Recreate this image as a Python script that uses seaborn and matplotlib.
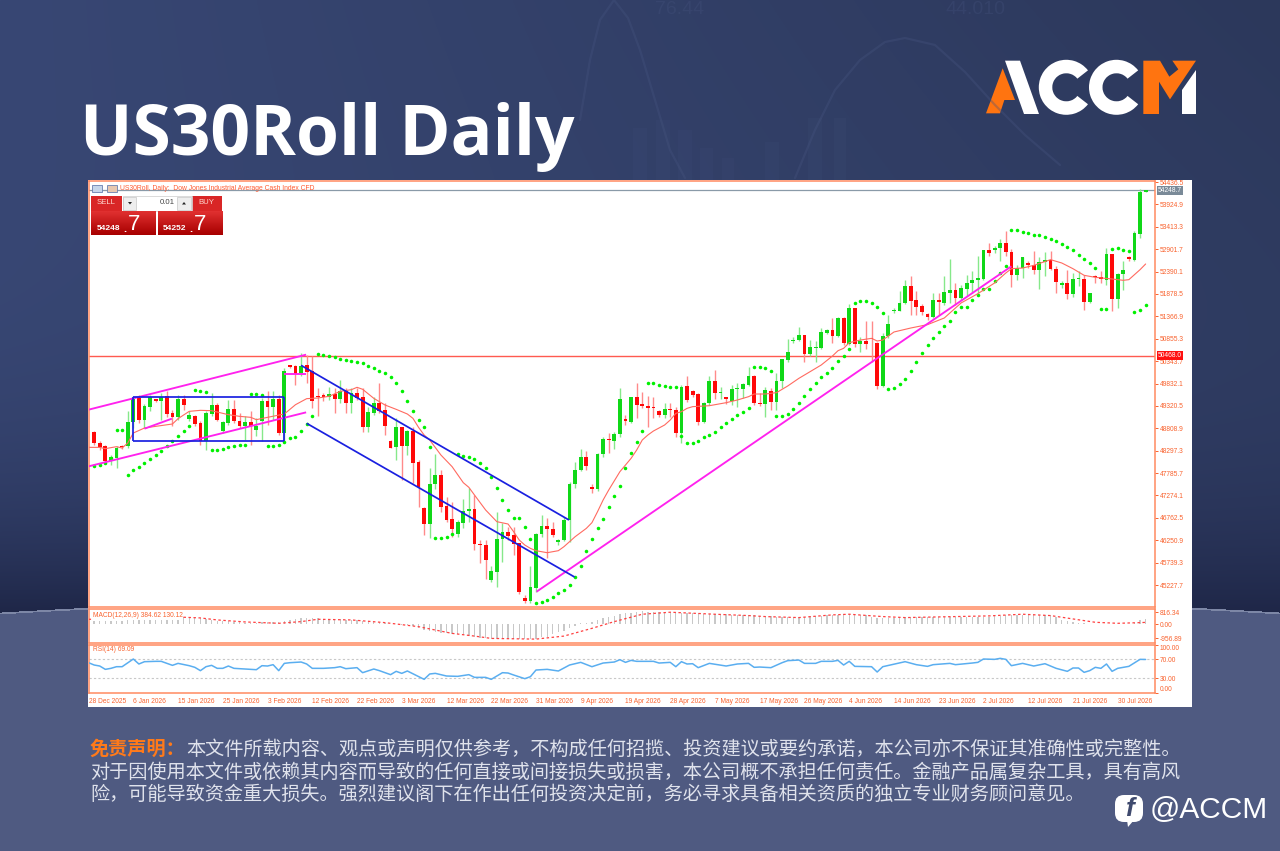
import numpy as np
import matplotlib
matplotlib.use('Agg')
import matplotlib.pyplot as plt
import seaborn as sns
from matplotlib.patches import Rectangle, Polygon, Wedge, FancyBboxPatch
from matplotlib.transforms import blended_transform_factory

# ---- data (bar index is position in the MT4 window) ----
opens = [48724,48465,48396,48069,48130,48404,48396,48945,49501,49006,
         49287,49470,49425,49539,49150,49067,49486,49029,49097,48930,
         48511,49135,49348,48739,48930,49257,48983,48853,48952,48777,
         48968,49425,49303,49470,48701,50247,50224,50072,50247,50110,
         49539,49562,49516,49592,49470,49653,49387,49615,49531,48830,
         49165,49379,49226,48526,48373,48830,48404,48754,48031,46995,
         46614,47528,47741,47033,46736,46393,46652,46918,46964,46157,
         46149,45342,45532,46279,46446,46362,46180,44930,44862,45167,
         46385,46576,46507,46218,46256,46713,47528,47855,48160,47475,
         47414,48221,48564,48526,48670,49028,48960,49516,49356,49318,
         49303,49196,49120,49242,49226,48708,49775,49661,49584,48960,
         49379,49889,49607,49516,49440,49699,49714,49805,50011,49394,
         49363,49668,49417,49897,50369,50803,50826,50940,50506,50643,
         50651,50994,51055,50917,51336,50735,51550,50727,50811,50864,
         50750,49775,50917,51489,51496,51664,52060,51748,51596,51420,
         51344,51748,51672,51900,51976,51786,52000,52121,52205,52220,
         52883,52875,52928,53043,52837,52304,52471,52586,52548,52433,
         52609,52662,52449,52075,52129,51877,52212,52228,51687,52281,
         52266,52205,52791,51771,52334,52715,52662,53248,54216]
closes = [48465,48374,48069,48145,48358,48381,48952,49478,49006,49310,
          49516,49425,49516,49135,49059,49486,49348,49105,48907,48511,
          49150,49348,49006,48945,49257,48968,48853,48952,48853,48869,
          49425,49303,49470,48701,50110,50217,50057,50240,50095,49440,
          49516,49531,49600,49470,49653,49394,49615,49501,48846,49181,
          49379,49211,48861,48366,48830,48404,48754,48023,47459,46614,
          47535,47741,47018,46713,46507,46660,46926,46964,46157,46141,
          45799,45540,46286,46446,46347,46164,45075,44870,45174,46393,
          46576,46507,46378,46256,46713,47535,47855,48160,47954,47429,
          48221,48564,48541,48670,49470,48967,49516,49341,49318,49280,
          49264,49104,49242,49226,48708,49760,49455,49569,48960,49386,
          49889,49607,49638,49470,49706,49729,49821,50011,49394,49363,
          49676,49417,49897,50384,50559,50826,50940,50506,50666,50666,
          51001,51055,50917,51336,50750,51550,50727,50811,50735,50841,
          49782,50917,51184,51504,51672,52060,51725,51580,51458,51344,
          51748,51687,51915,51976,51786,52014,52129,52205,52243,52883,
          52814,52928,53043,52829,52304,52471,52715,52548,52433,52609,
          52662,52449,52152,52136,51877,52220,52228,51687,51900,52258,
          52220,52791,51771,52334,52426,52669,53271,54208,54231]
highs = [48754,48511,48434,48206,48412,48434,49211,49539,49577,49364,
         49577,49480,49615,49653,49234,49577,49577,49196,49120,48968,
         49196,49615,49387,48968,49463,49463,49158,49082,49196,49044,
         49501,49653,49653,49577,50186,50262,50262,50529,50491,50453,
         49729,49615,49745,49729,49904,49729,49729,49729,49722,49303,
         49531,49836,49379,48541,49036,48846,48769,48830,48084,47018,
         47893,48221,47855,47246,47116,46713,47185,47436,47284,46256,
         46256,45662,46903,46652,46560,46560,46195,44999,45662,46408,
         46827,46751,46675,46279,46789,47589,48046,48328,48290,47535,
         48236,48602,48693,48731,49722,49112,49531,49851,49645,49546,
         49531,49226,49379,49394,49303,49798,50003,49684,49607,49417,
         50011,50140,49760,49531,49798,49836,49851,50201,50026,49607,
         49760,49722,50080,50392,50841,50902,51131,50950,50826,50803,
         51093,51070,51321,51359,51359,51649,51557,50902,51268,51268,
         50788,50978,51397,51557,51953,52205,52281,51938,51649,51443,
         51900,51900,52281,52677,52129,52091,52304,52395,52738,52890,
         53043,52966,53134,53309,52913,52532,52720,52624,52852,52723,
         52837,52852,52510,52167,52433,52357,52395,52319,51905,52319,
         52395,52928,52800,52357,52624,52738,53309,54284,54240]
lows = [48434,48320,48016,47977,47901,48343,48358,48815,48930,48815,
        49196,49420,49006,49059,48853,49006,49234,48968,48853,48434,
        48320,49082,48968,48701,48891,48930,48815,48549,48434,48625,
        48511,48891,49006,48663,48472,50186,49806,49996,49844,49272,
        49082,49425,49463,49158,49387,49158,49158,49463,48731,48731,
        49112,49165,48655,48350,48084,47627,48198,47566,47002,46370,
        46294,47414,46903,46675,46332,46332,46522,46675,46027,45723,
        45357,45304,45174,45761,46256,45913,45022,44809,44824,45075,
        46332,45837,46332,46141,46240,46218,47436,47840,47855,47322,
        47383,48145,48236,48328,48617,48884,48922,49036,49264,48846,
        49036,49074,49036,49074,48617,48465,49417,49531,48884,48922,
        49341,49470,49470,49363,49341,49303,49493,49775,49341,49318,
        49074,49226,49226,49722,50331,50765,50811,50331,50460,50331,
        50613,50963,50750,50887,50712,50712,50674,50559,50613,50331,
        49699,49760,50864,51443,51481,51649,51390,51405,51390,51291,
        51329,51405,51634,51672,51634,51748,51824,51900,51900,52205,
        52738,52814,52624,52738,52045,52205,52243,52471,52334,52000,
        52281,52433,51900,52014,51771,51801,52052,51519,51672,52129,
        52129,52091,51481,51557,51976,52639,52639,53157,54210]
psar = [47939,47962,48016,48130,48777,48762,47750,47850,47916,48016,
        48107,48191,48282,48412,48526,48640,48739,48853,49691,49668,
        49630,48320,48320,48343,48373,48396,48419,48434,49600,49592,
        49562,48396,48396,48434,48488,48587,48602,48739,48914,49089,
        50514,50491,50468,50438,50400,50369,50354,50323,50308,50232,
        50179,50125,50064,49973,49851,49668,49432,49211,48990,48838,
        48389,46294,46294,46332,46393,48221,48183,48160,48107,48023,
        47893,47695,47452,47177,46941,46751,46751,46553,46279,44816,
        44831,44885,44946,45052,45113,45228,45410,45669,46004,46279,
        46522,46728,47002,47269,47497,47893,48236,48488,48754,49851,
        49836,49798,49775,49760,49744,48640,48480,48480,48526,48602,
        48655,48731,48846,48937,49013,49112,49188,49280,50201,50201,
        50179,50118,49089,49089,49135,49242,49379,49546,49706,49836,
        49973,50080,50194,50354,50468,50613,51664,51725,51725,51679,
        51588,51451,49706,49729,49821,49943,50125,50331,50537,50712,
        50872,51001,51138,51268,51458,51580,51588,51733,51862,52000,
        52000,52182,52357,52525,53332,53332,53302,53271,53233,53218,
        53180,53134,53096,53020,52951,52875,52776,52677,52578,52471,
        51527,51542,52913,52921,52890,52867,51474,51512,51626]

ma_idx = [-1,1,2,4,5,6,7,9,11,14,15,17,19,21,24,26,28,29,31,34,36,38,40,42,44,46,47,48,50,52,54,56,57,58,
          59,60,62,64,66,67,68,70,72,74,75,76,77,78,79,81,83,84,86,88,89,90,91,92,94,96,97,98,99,100,102,
          103,104,105,106,107,110,113,115,117,118,120,122,124,126,128,130,132,133,134,135,137,139,140,141,
          142,143,146,149,152,155,158,161,163,164,166,168,171,173,175,177,179,182,184,185,186,187,188]
ma_vals = [48373,48373,48343,48389,48358,48472,48701,48815,48853,48907,49029,49196,49219,49211,49120,49082,
           49059,49006,49059,49135,49348,49486,49501,49539,49653,49691,49745,49700,49493,49341,49242,49135,
           49036,48830,48655,48541,48198,47932,47566,47459,47284,46941,46675,46622,46446,46256,46141,46065,
           46012,45966,46012,46104,46332,46522,46652,46903,47170,47398,47817,48122,48312,48541,48655,48747,
           48884,48998,49150,49188,49264,49303,49325,49394,49455,49531,49592,49592,49623,49775,49950,50102,
           50255,50460,50582,50636,50765,50826,50864,50803,50826,50917,51009,51100,51177,51329,51672,51885,
           52129,52357,52456,52471,52532,52662,52586,52456,52304,52258,52220,52190,52205,52319,52433,52563]

macd_hist = [230,230,200,200,230,250,295,340,340,320,295,295,295,320,340,400,477,477,450,
             400,340,295,250,230,200,180,150,120,110,110,150,150,180,150,230,295,340,400,430,400,
             400,360,360,340,340,320,320,295,250,200,180,130,90,40,0,-30,-60,-130,-250,-400,
             -480,-520,-560,-600,-640,-680,-720,-760,-860,-900,-950,-980,-1020,-1020,-1020,-1000,-1000,-980,-960,-960,
             -885,-840,-680,-500,-420,-272,-113,68,113,160,295,408,522,590,700,750,795,863,908,863,
             840,830,820,810,800,790,770,760,750,720,700,690,680,670,660,650,640,620,
             600,580,560,530,510,490,480,480,500,520,540,560,570,600,640,660,680,680,670,660,
             650,480,430,410,430,450,460,470,480,490,490,490,490,500,500,510,510,500,490,500,
             510,520,520,530,560,620,640,650,660,660,650,650,640,620,480,300,250,180,110,
             70,50,30,20,20,20,20,30,40,80,260,385]
signal_idx = [-1,12,16,19,22,27,33,37,40,46,52,58,64,68,71,79,84,89,93,98,103,111,117,120,126,132,135,141,
              145,160,166,171,175,179,183,187,188]
signal_vals = [340,340,477,431,295,160,68,182,340,295,113,-160,-613,-795,-953,-1000,-795,-272,182,681,817,681,
               590,522,454,636,681,522,454,568,681,590,363,136,68,113,130]

rsi_idx = [-1,0,1,2,3,4,5,7,8,9,11,12,14,15,17,18,19,20,21,22,23,24,25,27,29,30,31,32,33,34,35,37,38,39,41,43,
           44,45,47,48,50,51,53,54,55,56,59,60,61,63,65,67,68,70,71,73,74,75,77,78,79,81,83,85,87,89,91,93,94,
           95,96,97,100,101,103,104,105,106,107,108,110,113,115,117,118,119,121,123,124,126,127,129,130,132,133,
           134,135,136,139,140,141,145,147,149,150,153,154,157,158,159,161,162,163,164,166,168,170,172,174,175,
           176,177,178,179,180,181,182,183,185,187,188]
rsi_vals = [62.4,57.6,55.5,48.6,50.7,54.1,54.1,70.0,59.7,64.5,65.2,65.2,56.9,61.0,56.2,52.8,45.9,54.1,56.9,50.7,
            50.7,55.5,50.7,49.3,47.9,56.2,55.5,58.3,45.9,61.0,62.4,63.8,59.7,50.7,50.7,52.1,54.1,50.0,52.1,41.7,
            49.3,45.9,37.6,44.5,40.3,45.2,27.9,39.0,40.3,34.8,34.1,37.6,32.0,32.0,27.9,41.7,41.0,36.9,29.3,33.4,
            47.2,48.6,45.2,57.6,63.1,54.1,61.7,63.8,68.6,63.1,67.2,65.2,65.2,61.7,63.1,54.1,64.5,59.7,60.3,52.1,
            61.0,55.5,59.7,61.0,52.8,53.4,52.1,62.4,66.6,67.9,61.0,61.0,65.2,65.2,67.2,57.6,65.2,54.8,54.1,43.1,
            54.1,64.5,58.3,54.8,58.3,61.0,58.3,61.7,63.1,70.0,69.3,71.4,69.3,56.2,61.0,55.5,60.3,50.7,44.5,51.4,
            51.4,42.4,45.9,52.8,50.7,59.7,44.5,50.7,54.8,69.3,69.09]

price_ticks = [54436.5,53924.9,53413.3,52901.7,52390.1,51878.5,51366.9,50855.3,50343.7,49832.1,
               49320.5,48808.9,48297.3,47785.7,47274.1,46762.5,46250.9,45739.3,45227.7]
date_labels = ['28 Dec 2025','6 Jan 2026','15 Jan 2026','25 Jan 2026','3 Feb 2026','12 Feb 2026','22 Feb 2026',
               '3 Mar 2026','12 Mar 2026','22 Mar 2026','31 Mar 2026','9 Apr 2026','19 Apr 2026','28 Apr 2026',
               '7 May 2026','17 May 2026','26 May 2026','4 Jun 2026','14 Jun 2026','23 Jun 2026','2 Jul 2026',
               '12 Jul 2026','21 Jul 2026','30 Jul 2026']
bid_price = 54248.7
level_price = 50468.0

# trend lines drawn on the chart: (bar, price, bar, price)
magenta_lines = [(-1,49234,37.9,50491),(-1,47939,37.9,49173),(9,48800,13.9,49029),(34,50042,37.9,50042),
                 (79.1,45075,164,52510)]
blue_lines = [(37,50247,84.9,46713),(38,48922,85.9,45410),(7,49524,33.9,49524),(7,48511,33.9,48511),
              (7,49524,7,48511),(33.9,49524,33.9,48511)]

WIDTH, HEIGHT = 1280, 851
CORAL = '#f9622e'
UP, DOWN = '#10d818', '#ff0808'

sns.set_theme(style='white')
plt.rcParams['font.family'] = ['Liberation Sans', 'Noto Sans CJK SC', 'DejaVu Sans']

fig = plt.figure(figsize=(WIDTH / 100, HEIGHT / 100), dpi=100)


def px_axes(x0, y0, x1, y1, zorder=1):
    # axes placed by picture pixels
    return fig.add_axes([x0 / WIDTH, 1 - y1 / HEIGHT, (x1 - x0) / WIDTH, (y1 - y0) / HEIGHT], zorder=zorder)


# ---- page background ----
bg = px_axes(0, 0, WIDTH, HEIGHT, zorder=0)
yy, xx = np.mgrid[0:HEIGHT, 0:WIDTH]
top_c = np.array([0x38, 0x47, 0x74]) / 255
low_c = np.array([0x1f, 0x27, 0x48]) / 255
right_c = np.array([0x2c, 0x38, 0x5b]) / 255
t = (yy / 610)[..., None]
h = (xx / WIDTH)[..., None] * (1 - 0.5 * t)
page = (top_c * (1 - h) + right_c * h) * (1 - t ** 5) + low_c * t ** 5
arc = 594 + 19 * ((xx - 640) / 640) ** 2
under = yy > arc
page[under] = np.array([0x4f, 0x5a, 0x81]) / 255
rim = np.abs(yy - arc) < 0.9
page[rim] = np.array([0x7d, 0x87, 0xa6]) / 255
bg.imshow(page, extent=(0, WIDTH, HEIGHT, 0), aspect='auto', interpolation='bilinear')
bg.set_xlim(0, WIDTH)
bg.set_ylim(HEIGHT, 0)
bg.axis('off')

# faint decoration behind the title
ghost = '#46547f'
sx = np.array([580, 590, 600, 614, 628, 640, 655, 670, 685])
sy = np.array([120, 60, 20, 0, 18, 50, 100, 150, 178])
bg.plot(sx, sy, color=ghost, lw=1.6, alpha=0.35)
sx = np.array([795, 815, 835, 860, 885, 905, 935, 965, 995, 1025, 1060])
sy = np.array([178, 130, 90, 60, 42, 38, 45, 72, 105, 135, 165])
bg.plot(sx, sy, color=ghost, lw=1.6, alpha=0.35)
for x0, y0, w in [(633, 128, 14), (656, 120, 14), (678, 130, 14), (700, 148, 13), (722, 158, 12),
                  (765, 142, 14), (808, 118, 14), (834, 118, 12)]:
    bg.add_patch(Rectangle((x0, y0), w, 180 - y0, color=ghost, alpha=0.14, lw=0))
bg.text(655, 10, '76.44', color=ghost, alpha=0.3, fontsize=14, va='center')
bg.text(945, 10, '44.010', color=ghost, alpha=0.3, fontsize=14, va='center')

# white sheet behind the terminal screenshot
bg.add_patch(Rectangle((88, 180), 1104, 527, color='white', lw=0, zorder=3))

bg.text(80, 155, 'US30Roll Daily', color='white', fontsize=50, fontweight='bold',
        family=['Open Sans'], va='baseline', ha='left')

# logo
ORANGE = '#ff7410'


def lg(points):
    return [(960 + a / 3, 40 + b / 3) for a, b in points]


bg.add_patch(Polygon(lg([(78, 220), (128, 85), (165, 180), (133, 180), (120, 220)]), color=ORANGE, lw=0))
bg.add_patch(Polygon(lg([(135, 62), (180, 62), (237, 222), (192, 222)]), color='white', lw=0))
for cx in (1066.3, 1116.5):
    bg.add_patch(Wedge((cx, 87.3), 27.5, 38, 322, width=13.5, color='white', lw=0))
bg.add_patch(Polygon(lg([(550, 62), (600, 62), (628, 110), (655, 88), (637, 62), (708, 62), (630, 178),
                         (597, 125), (597, 222), (550, 222)]), color=ORANGE, lw=0))
bg.add_patch(Polygon(lg([(708, 90), (708, 222), (667, 222), (667, 150)]), color='white', lw=0))

# disclaimer
FOOT = '#dfe2ec'
bg.text(90, 749, '免责声明：', color='#ff7a1a', fontsize=13.8, fontweight='bold', va='center',
        family=['Noto Sans CJK SC'])
bg.text(186, 749, '本文件所载内容、观点或声明仅供参考，不构成任何招揽、投资建议或要约承诺，本公司亦不保证其准确性或完整性。',
        color=FOOT, fontsize=13.8, va='center', family=['Noto Sans CJK SC'])
bg.text(90, 772, '对于因使用本文件或依赖其内容而导致的任何直接或间接损失或损害，本公司概不承担任何责任。金融产品属复杂工具，具有高风',
        color=FOOT, fontsize=13.8, va='center', family=['Noto Sans CJK SC'])
bg.text(90, 794, '险，可能导致资金重大损失。强烈建议阁下在作出任何投资决定前，务必寻求具备相关资质的独立专业财务顾问意见。',
        color=FOOT, fontsize=13.8, va='center', family=['Noto Sans CJK SC'])

# facebook handle
bg.add_patch(FancyBboxPatch((1115, 795), 28, 27, boxstyle='round,pad=0,rounding_size=9', color='white', lw=0))
bg.add_patch(Polygon([(1127, 820), (1134, 820), (1128, 827)], color='white', lw=0))
bg.text(1129.5, 809, 'f', color='#3f4a6e', fontsize=19, fontweight='bold', fontstyle='italic', ha='center', va='center',
        family=['Liberation Sans'])
bg.text(1150, 810, '@ACCM', color='white', fontsize=21.5, va='center', ha='left', family=['Liberation Sans'])

# ---- panels ----
X_LEFT, X_RIGHT = 88.5, 1155.3
BAR0, BAR_STEP = 94.15, 5.593
xlim = ((X_LEFT - BAR0) / BAR_STEP, (X_RIGHT - BAR0) / BAR_STEP)

ax = px_axes(X_LEFT, 180.5, X_RIGHT, 607, zorder=2)
macd_ax = px_axes(X_LEFT, 608.5, X_RIGHT, 642.5, zorder=2)
rsi_ax = px_axes(X_LEFT, 644.5, X_RIGHT, 693, zorder=2)

bars = np.arange(len(opens))
opens_a, closes_a = np.array(opens, float), np.array(closes, float)
rising = closes_a >= opens_a

# wicks are pale in the scaled-down screenshot
ax.vlines(bars[rising], np.array(lows)[rising], np.array(highs)[rising], color='#86e88a', lw=1.0, zorder=2)
ax.vlines(bars[~rising], np.array(lows)[~rising], np.array(highs)[~rising], color='#ff8a8a', lw=1.0, zorder=2)
body_low = np.minimum(opens_a, closes_a)
body_h = np.maximum(np.abs(closes_a - opens_a), 28)
ax.bar(bars, body_h, bottom=body_low, width=0.68, color=[UP if r else DOWN for r in rising], lw=0, zorder=2.5)

sns.scatterplot(x=bars, y=psar, ax=ax, color='#00f000', s=6.5, linewidth=0, legend=False, zorder=3)
sns.lineplot(x=ma_idx, y=ma_vals, ax=ax, color='#ff6a60', lw=0.8, errorbar=None, zorder=4)

ax.axhline(level_price, color='#ff5a50', lw=1.0, zorder=1.5)
ax.axhline(bid_price, color='#8a9aa8', lw=0.9, zorder=1.5)

for x0, y0, x1, y1 in magenta_lines:
    ax.plot([x0, x1], [y0, y1], color='#ff22ee', lw=1.35, zorder=5, solid_capstyle='butt')
for x0, y0, x1, y1 in blue_lines:
    ax.plot([x0, x1], [y0, y1], color='#1a20e0', lw=1.25, zorder=5, solid_capstyle='butt')

ax.set_xlim(xlim)
# 54436.5 sits at y=182 and one pixel is 22.85 points
ax.set_ylim(54436.5 - (607 - 182) * 22.85, 54436.5 + 1.5 * 22.85)
ax.yaxis.tick_right()
ax.set_yticks(price_ticks)
ax.set_yticklabels([f'{p:.1f}' for p in price_ticks])
ax.set_xticks([])
ax.set_xlabel('')
ax.set_ylabel('')

# MACD
macd_ax.bar(bars, macd_hist, width=0.24, color='#c8c8c8', lw=0, zorder=2)
sns.lineplot(x=signal_idx, y=signal_vals, ax=macd_ax, color='#ff4040', lw=0.9, linestyle=(0, (2, 2)),
             errorbar=None, zorder=3)
macd_ax.set_xlim(xlim)
macd_ax.set_ylim(-1229, 1068)
macd_ax.yaxis.tick_right()
macd_ax.set_yticks([816.34, 0, -956.89])
macd_ax.set_yticklabels(['816.34', '0.00', '-956.89'])
macd_ax.set_xticks([])
macd_ax.set_xlabel('')
macd_ax.set_ylabel('')
macd_ax.text(0.004, 0.80, 'MACD(12,26,9) 384.62 130.12', transform=macd_ax.transAxes, color=CORAL, fontsize=4.8,
             va='center', zorder=6, bbox=dict(fc='white', ec='none', pad=0.6))

# RSI
sns.lineplot(x=rsi_idx, y=rsi_vals, ax=rsi_ax, color='#5aaef0', lw=1.1, errorbar=None, zorder=3)
for lvl in (70, 30):
    rsi_ax.axhline(lvl, color='#c8c8c8', lw=0.8, ls=(0, (2, 2)), zorder=1)
rsi_ax.set_xlim(xlim)
rsi_ax.set_ylim(-0.4, 100.1)
rsi_ax.yaxis.tick_right()
rsi_ax.set_yticks([100, 70, 30, 0])
rsi_ax.set_yticklabels(['100.00', '70.00', '30.00', '0.00'])
labs = rsi_ax.get_yticklabels()
labs[0].set_verticalalignment('top')
labs[3].set_verticalalignment('bottom')
rsi_ax.set_xticks([-1 + 8 * k for k in range(len(date_labels))])
rsi_ax.set_xticklabels(date_labels, ha='left')
rsi_ax.set_xlabel('')
rsi_ax.set_ylabel('')
rsi_ax.text(0.004, 0.89, 'RSI(14) 69.09', transform=rsi_ax.transAxes, color=CORAL, fontsize=4.8, va='center', zorder=6)

for a in (ax, macd_ax, rsi_ax):
    a.set_facecolor('white')
    for s in a.spines.values():
        s.set_color('#ff8a60')
        s.set_linewidth(1.1)
    a.tick_params(axis='y', colors=CORAL, labelsize=4.8, length=2, width=0.7, pad=1.2)
    a.tick_params(axis='x', colors=CORAL, labelsize=4.8, length=2, width=0.7, pad=1.5)

# current-price and level tags on the scale
tr = blended_transform_factory(ax.transAxes, ax.transData)
tag_x = 1.0025
ax.text(tag_x, bid_price, f'{bid_price:.1f}', transform=tr, color='white', fontsize=4.8, va='center', ha='left',
        zorder=8, clip_on=False, bbox=dict(fc='#7a8a98', ec='none', pad=0.8))
ax.text(tag_x, level_price, f'{level_price:.1f}', transform=tr, color='white', fontsize=4.8, va='center', ha='left',
        zorder=8, clip_on=False, bbox=dict(fc='#ff1010', ec='none', pad=0.8))

# ---- terminal header and one-click trading box ----
top = px_axes(88, 180, 320, 240, zorder=3)
top.set_xlim(88, 320)
top.set_ylim(240, 180)
top.axis('off')
top.patch.set_alpha(0)
top.add_patch(Rectangle((92, 185), 10, 7, fc='#c6d6ea', ec='#6a80b0', lw=0.6))
top.add_patch(Rectangle((107, 185), 10, 7, fc='#e8c8b0', ec='#6a80b0', lw=0.6))
top.text(120.5, 188.5, 'US30Roll, Daily:  Dow Jones Industrial Average Cash Index CFD', color='#ff5c33', fontsize=4.85,
         va='center')
SELL_RED = '#d92626'
top.add_patch(Rectangle((91, 196), 30.5, 14.5, fc=SELL_RED, ec='none'))
top.add_patch(Rectangle((192, 196), 30, 14.5, fc=SELL_RED, ec='none'))
top.add_patch(Rectangle((122.5, 196), 69, 14.5, fc='white', ec='#cccccc', lw=0.5))
top.add_patch(Rectangle((123, 196.5), 13, 13.5, fc='#eeeeee', ec='#bbbbbb', lw=0.4))
top.add_patch(Rectangle((177, 196.5), 13.5, 13.5, fc='#eeeeee', ec='#bbbbbb', lw=0.4))
top.add_patch(Polygon([(128, 202), (132, 202), (130, 204.5)], color='#222222', lw=0))
top.add_patch(Polygon([(182, 204.5), (186, 204.5), (184, 202)], color='#222222', lw=0))
top.text(106, 203, 'SELL', color='#ffd8d0', fontsize=5.6, ha='center', va='center')
top.text(206.5, 203, 'BUY', color='#ffd8d0', fontsize=5.6, ha='center', va='center')
top.text(175, 203, '0.01', color='#444444', fontsize=5.6, ha='right', va='center')
for x0, w in [(91, 65), (157.5, 64.5)]:
    grad = np.linspace(0, 1, 20)[:, None]
    top.imshow(grad, extent=(x0, x0 + w, 235.5, 211.5), cmap=matplotlib.colors.LinearSegmentedColormap.from_list(
        'r', ['#a80000', '#e03030']), aspect='auto', zorder=2, origin='lower')
top.set_xlim(88, 320)
top.set_ylim(240, 180)
top.text(97, 228, '54248', color='white', fontsize=6, fontweight='bold', va='center', zorder=4)
top.text(123, 229, '.', color='white', fontsize=8, fontweight='bold', va='center', zorder=4)
top.text(128, 225, '7', color='white', fontsize=16, va='center', zorder=4)
top.text(163, 228, '54252', color='white', fontsize=6, fontweight='bold', va='center', zorder=4)
top.text(189, 229, '.', color='white', fontsize=8, fontweight='bold', va='center', zorder=4)
top.text(194, 225, '7', color='white', fontsize=16, va='center', zorder=4)

fig.savefig('out.png', dpi=100)
